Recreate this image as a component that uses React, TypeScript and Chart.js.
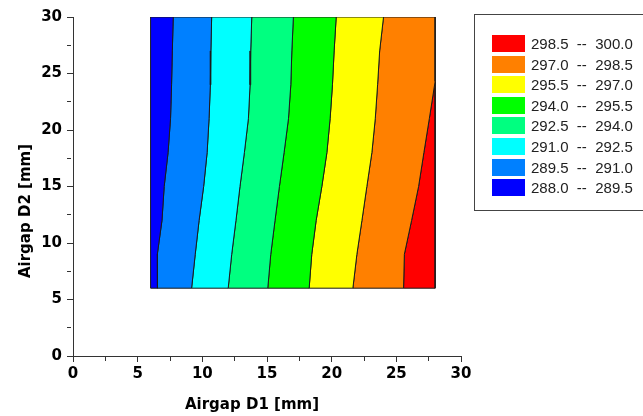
import React, { useEffect, useRef } from 'react';
import { Chart, registerables } from 'chart.js';

Chart.register(...registerables);

// ---- data ----
const levels = [288.0, 289.5, 291.0, 292.5, 294.0, 295.5, 297.0, 298.5, 300.0];
const bandColors = ['#0000FF', '#0080FF', '#00FFFF', '#00FF80', '#00FF00', '#FFFF00', '#FF8000', '#FF0000'];

const xTitle = 'Airgap D1 [mm]';
const yTitle = 'Airgap D2 [mm]';
const axisMin = 0;
const axisMax = 30;
const majorStep = 5;
const minorStep = 2.5;

const domainX = [6, 28];
const domainY = [6, 30];

// y levels at which contour line positions (x) were read
const yLevels = [6, 9, 12, 15, 18, 21, 24, 27, 30];
const iso289_5 = [6.53, 6.52, 6.88, 7.05, 7.35, 7.54, 7.62, 7.68, 7.75];
const iso291_0 = [9.17, 9.45, 9.75, 10.10, 10.37, 10.52, 10.62, 10.66, 10.72];
const iso292_5 = [12.00, 12.27, 12.60, 12.91, 13.25, 13.56, 13.69, 13.74, 13.82];
const iso294_0 = [15.06, 15.29, 15.62, 15.96, 16.32, 16.66, 16.84, 16.92, 17.04];
const iso295_5 = [18.26, 18.46, 18.80, 19.24, 19.63, 19.88, 20.06, 20.19, 20.35];
const iso297_0 = [21.64, 21.95, 22.34, 22.72, 23.11, 23.37, 23.55, 23.71, 24.01];
// the 298.5 line leaves through the right edge
const iso298_5Y = [6, 9, 12, 15, 18, 21, 24.3];
const iso298_5X = [25.56, 25.62, 26.18, 26.72, 27.13, 27.55, 28.0];

type Pt = { x: number; y: number };
const toLine = (xs: number[], ys: number[]): Pt[] => xs.map((x, i) => ({ x, y: ys[i] }));

function buildBands(): Pt[][] {
  const [xMin, xMax] = domainX;
  const [, yMax] = domainY;
  const leftEdge = toLine(yLevels.map(() => xMin), yLevels);
  const isoLines = [iso289_5, iso291_0, iso292_5, iso294_0, iso295_5, iso297_0].map((xs) => toLine(xs, yLevels));
  const bounds = [leftEdge, ...isoLines];
  const redEdge = toLine(iso298_5X, iso298_5Y);
  const polys: Pt[][] = [];
  for (let k = 0; k < bounds.length - 1; k++) {
    polys.push([...bounds[k], ...bounds[k + 1].slice().reverse()]);
  }
  polys.push([...bounds[bounds.length - 1], { x: xMax, y: yMax }, ...redEdge.slice().reverse()]);
  polys.push([...redEdge, { x: xMax, y: domainY[0] }]);
  return polys.map((p) => [...p, p[0]]);
}

const axisTitlesPlugin = {
  id: 'axisTitles',
  afterDraw(chart: any) {
    const { ctx, chartArea } = chart;
    ctx.save();
    ctx.font = "bold 15px 'DejaVu Sans'";
    ctx.fillStyle = '#000';
    ctx.textAlign = 'center';
    ctx.textBaseline = 'alphabetic';
    ctx.fillText(xTitle, chartArea.left + 179, chartArea.bottom + 53);
    ctx.translate(chartArea.left - 43, chartArea.top + 194);
    ctx.rotate(-Math.PI / 2);
    ctx.fillText(yTitle, 0, 0);
    ctx.restore();
  },
};

function makeAxis(isX: boolean) {
  return {
    type: 'linear' as const,
    min: axisMin,
    max: axisMax,
    afterFit: (s: any) => {
      if (isX) s.height = 60;
      else s.width = 73;
    },
    border: { display: true, color: '#333', width: 1 },
    grid: {
      drawOnChartArea: false,
      drawTicks: true,
      tickLength: 6,
      tickColor: '#333',
      tickWidth: 1,
      tickBorderDash: (c: any) => (c.tick && Math.abs(c.tick.value % majorStep) > 1e-6 ? [4, 20] : []),
    },
    ticks: {
      stepSize: minorStep,
      autoSkip: false,
      maxRotation: 0,
      padding: isX ? 3 : 5,
      color: '#000',
      font: { family: 'DejaVu Sans', size: 15, weight: 'bold' as const },
      callback: (v: any) => (Math.abs(Number(v) % majorStep) < 1e-6 ? String(v) : ''),
    },
  };
}

export default function App() {
  const ref = useRef<HTMLCanvasElement | null>(null);

  useEffect(() => {
    if (!ref.current) return;
    const polys = buildBands();
    const chart = new Chart(ref.current, {
      type: 'scatter',
      data: {
        datasets: polys.map((pts, i) => ({
          label: `${levels[i].toFixed(1)} -- ${levels[i + 1].toFixed(1)}`,
          data: pts,
          showLine: true,
          fill: 'shape',
          backgroundColor: bandColors[i],
          borderColor: '#1a1a1a',
          borderWidth: 1,
          pointRadius: 0,
          pointHoverRadius: 0,
          tension: 0,
        })),
      },
      options: {
        responsive: false,
        animation: false,
        events: [],
        layout: { padding: { left: 0, top: 17, right: 182, bottom: 0 } },
        plugins: { legend: { display: false }, tooltip: { enabled: false } },
        scales: { x: makeAxis(true), y: makeAxis(false) } as any,
      },
      plugins: [axisTitlesPlugin],
    } as any);
    return () => chart.destroy();
  }, []);

  const rows = bandColors
    .map((c, i) => ({ c, text: `${levels[i].toFixed(1)}  --  ${levels[i + 1].toFixed(1)}` }))
    .reverse();

  return (
    <div style={{ position: 'fixed', left: 0, top: 0, width: 643, height: 416, overflow: 'hidden', background: '#fff' }}>
      <canvas ref={ref} width={643} height={416} style={{ position: 'absolute', left: 0, top: 0, width: 643, height: 416 }} />
      <div
        style={{
          position: 'absolute',
          left: 474,
          top: 14,
          width: 220,
          height: 197,
          border: '1px solid #444',
          boxSizing: 'border-box',
        }}
      >
        {rows.map((r, i) => (
          <div key={i} style={{ position: 'absolute', left: 17, top: 20 + i * 20.6, height: 17, display: 'flex', alignItems: 'center' }}>
            <div style={{ width: 33, height: 17, background: r.c }} />
            <span
              style={{
                marginLeft: 6,
                font: "15px 'Liberation Sans', Arial, sans-serif",
                color: '#222',
                whiteSpace: 'pre',
                lineHeight: '17px',
              }}
            >
              {r.text}
            </span>
          </div>
        ))}
      </div>
    </div>
  );
}
